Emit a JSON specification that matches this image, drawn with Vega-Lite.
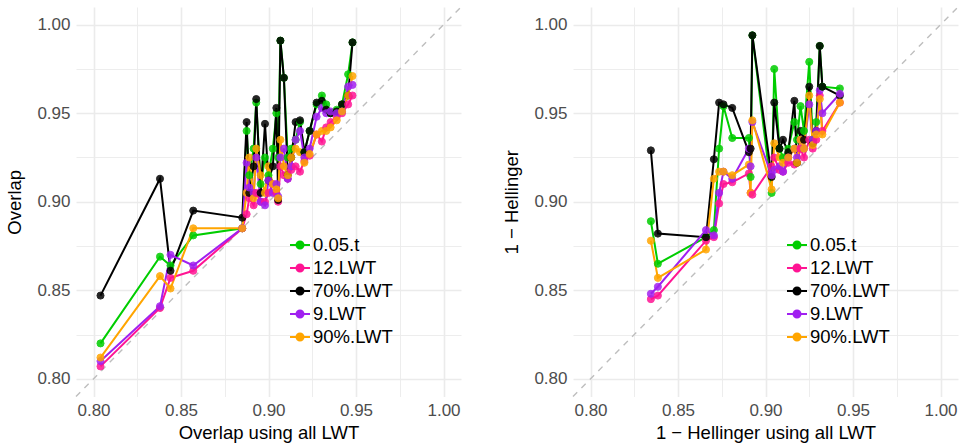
{
"$schema": "https://vega.github.io/schema/vega-lite/v6.json",
"background": "white",
"padding": {"left": 5, "top": 4, "right": 3, "bottom": 0},
"bounds": "flush",
"spacing": 112,
"config": {
  "view": {"stroke": null},
  "font": "Liberation Sans",
  "axis": {"domain": false, "ticks": false, "gridColor": "#EBEBEB", "labelFontSize": 17, "labelColor": "#4D4D4D", "titleFontSize": 18.5, "titleFontWeight": "normal", "titleColor": "#000000", "labelPadding": 6},
  "axisX": {"titlePadding": 5},
  "axisY": {"titlePadding": 12.5},
  "legend": {"title": null, "orient": "none", "legendX": 213, "legendY": 227, "padding": 0,
             "symbolType": "M-1,0L1,0M-0.35,0A0.35,0.35 0 1,0 0.35,0A0.35,0.35 0 1,0 -0.35,0", "symbolSize": 400, "symbolStrokeWidth": 2, "symbolOpacity": 1,
             "labelFontSize": 18.5, "labelColor": "#000000", "labelOffset": 2, "rowPadding": 2}
},
"datasets": {
  "diag": [{"d": 0.79}, {"d": 1.01}],
  "left": [
{"x":0.804,"s":"0.05.t","y":0.820},{"x":0.804,"s":"12.LWT","y":0.807},{"x":0.804,"s":"70%.LWT","y":0.847},{"x":0.804,"s":"9.LWT","y":0.810},{"x":0.804,"s":"90%.LWT","y":0.812},
{"x":0.838,"s":"0.05.t","y":0.869},{"x":0.838,"s":"12.LWT","y":0.840},{"x":0.838,"s":"70%.LWT","y":0.913},{"x":0.838,"s":"9.LWT","y":0.841},{"x":0.838,"s":"90%.LWT","y":0.858},
{"x":0.844,"s":"0.05.t","y":0.864},{"x":0.844,"s":"12.LWT","y":0.857},{"x":0.844,"s":"70%.LWT","y":0.861},{"x":0.844,"s":"9.LWT","y":0.870},{"x":0.844,"s":"90%.LWT","y":0.851},
{"x":0.857,"s":"0.05.t","y":0.881},{"x":0.857,"s":"12.LWT","y":0.861},{"x":0.857,"s":"70%.LWT","y":0.895},{"x":0.857,"s":"9.LWT","y":0.864},{"x":0.857,"s":"90%.LWT","y":0.885},
{"x":0.885,"s":"0.05.t","y":0.885},{"x":0.885,"s":"12.LWT","y":0.885},{"x":0.885,"s":"70%.LWT","y":0.891},{"x":0.885,"s":"9.LWT","y":0.885},{"x":0.885,"s":"90%.LWT","y":0.885},
{"x":0.8875,"s":"0.05.t","y":0.940},{"x":0.8875,"s":"12.LWT","y":0.893},{"x":0.8875,"s":"70%.LWT","y":0.945},{"x":0.8875,"s":"9.LWT","y":0.922},{"x":0.8875,"s":"90%.LWT","y":0.905},
{"x":0.889,"s":"0.05.t","y":0.915},{"x":0.889,"s":"12.LWT","y":0.902},{"x":0.889,"s":"70%.LWT","y":0.905},{"x":0.889,"s":"9.LWT","y":0.908},{"x":0.889,"s":"90%.LWT","y":0.925},
{"x":0.8915,"s":"0.05.t","y":0.930},{"x":0.8915,"s":"12.LWT","y":0.898},{"x":0.8915,"s":"70%.LWT","y":0.920},{"x":0.8915,"s":"9.LWT","y":0.905},{"x":0.8915,"s":"90%.LWT","y":0.902},
{"x":0.893,"s":"0.05.t","y":0.956},{"x":0.893,"s":"12.LWT","y":0.905},{"x":0.893,"s":"70%.LWT","y":0.958},{"x":0.893,"s":"9.LWT","y":0.925},{"x":0.893,"s":"90%.LWT","y":0.930},
{"x":0.8955,"s":"0.05.t","y":0.910},{"x":0.8955,"s":"12.LWT","y":0.900},{"x":0.8955,"s":"70%.LWT","y":0.905},{"x":0.8955,"s":"9.LWT","y":0.900},{"x":0.8955,"s":"90%.LWT","y":0.915},
{"x":0.898,"s":"0.05.t","y":0.925},{"x":0.898,"s":"12.LWT","y":0.900},{"x":0.898,"s":"70%.LWT","y":0.944},{"x":0.898,"s":"9.LWT","y":0.898},{"x":0.898,"s":"90%.LWT","y":0.905},
{"x":0.900,"s":"0.05.t","y":0.915},{"x":0.900,"s":"12.LWT","y":0.905},{"x":0.900,"s":"70%.LWT","y":0.912},{"x":0.900,"s":"9.LWT","y":0.912},{"x":0.900,"s":"90%.LWT","y":0.920},
{"x":0.9025,"s":"0.05.t","y":0.930},{"x":0.9025,"s":"12.LWT","y":0.910},{"x":0.9025,"s":"70%.LWT","y":0.920},{"x":0.9025,"s":"9.LWT","y":0.905},{"x":0.9025,"s":"90%.LWT","y":0.910},
{"x":0.9045,"s":"0.05.t","y":0.950},{"x":0.9045,"s":"12.LWT","y":0.905},{"x":0.9045,"s":"70%.LWT","y":0.953},{"x":0.9045,"s":"9.LWT","y":0.910},{"x":0.9045,"s":"90%.LWT","y":0.907},
{"x":0.9055,"s":"0.05.t","y":0.925},{"x":0.9055,"s":"12.LWT","y":0.900},{"x":0.9055,"s":"70%.LWT","y":0.901},{"x":0.9055,"s":"9.LWT","y":0.903},{"x":0.9055,"s":"90%.LWT","y":0.902},
{"x":0.9068,"s":"0.05.t","y":0.991},{"x":0.9068,"s":"12.LWT","y":0.920},{"x":0.9068,"s":"70%.LWT","y":0.991},{"x":0.9068,"s":"9.LWT","y":0.925},{"x":0.9068,"s":"90%.LWT","y":0.935},
{"x":0.9088,"s":"0.05.t","y":0.970},{"x":0.9088,"s":"12.LWT","y":0.915},{"x":0.9088,"s":"70%.LWT","y":0.970},{"x":0.9088,"s":"9.LWT","y":0.930},{"x":0.9088,"s":"90%.LWT","y":0.920},
{"x":0.911,"s":"0.05.t","y":0.925},{"x":0.911,"s":"12.LWT","y":0.913},{"x":0.911,"s":"70%.LWT","y":0.915},{"x":0.911,"s":"9.LWT","y":0.913},{"x":0.911,"s":"90%.LWT","y":0.915},
{"x":0.913,"s":"0.05.t","y":0.930},{"x":0.913,"s":"12.LWT","y":0.918},{"x":0.913,"s":"70%.LWT","y":0.925},{"x":0.913,"s":"9.LWT","y":0.920},{"x":0.913,"s":"90%.LWT","y":0.925},
{"x":0.9155,"s":"0.05.t","y":0.935},{"x":0.9155,"s":"12.LWT","y":0.920},{"x":0.9155,"s":"70%.LWT","y":0.945},{"x":0.9155,"s":"9.LWT","y":0.935},{"x":0.9155,"s":"90%.LWT","y":0.930},
{"x":0.918,"s":"0.05.t","y":0.945},{"x":0.918,"s":"12.LWT","y":0.917},{"x":0.918,"s":"70%.LWT","y":0.946},{"x":0.918,"s":"9.LWT","y":0.940},{"x":0.918,"s":"90%.LWT","y":0.928},
{"x":0.9205,"s":"0.05.t","y":0.928},{"x":0.9205,"s":"12.LWT","y":0.923},{"x":0.9205,"s":"70%.LWT","y":0.928},{"x":0.9205,"s":"9.LWT","y":0.925},{"x":0.9205,"s":"90%.LWT","y":0.922},
{"x":0.9235,"s":"0.05.t","y":0.940},{"x":0.9235,"s":"12.LWT","y":0.926},{"x":0.9235,"s":"70%.LWT","y":0.940},{"x":0.9235,"s":"9.LWT","y":0.930},{"x":0.9235,"s":"90%.LWT","y":0.927},
{"x":0.9275,"s":"0.05.t","y":0.955},{"x":0.9275,"s":"12.LWT","y":0.938},{"x":0.9275,"s":"70%.LWT","y":0.956},{"x":0.9275,"s":"9.LWT","y":0.948},{"x":0.9275,"s":"90%.LWT","y":0.938},
{"x":0.9305,"s":"0.05.t","y":0.960},{"x":0.9305,"s":"12.LWT","y":0.934},{"x":0.9305,"s":"70%.LWT","y":0.957},{"x":0.9305,"s":"9.LWT","y":0.953},{"x":0.9305,"s":"90%.LWT","y":0.940},
{"x":0.933,"s":"0.05.t","y":0.955},{"x":0.933,"s":"12.LWT","y":0.942},{"x":0.933,"s":"70%.LWT","y":0.952},{"x":0.933,"s":"9.LWT","y":0.950},{"x":0.933,"s":"90%.LWT","y":0.940},
{"x":0.9355,"s":"0.05.t","y":0.950},{"x":0.9355,"s":"12.LWT","y":0.945},{"x":0.9355,"s":"70%.LWT","y":0.950},{"x":0.9355,"s":"9.LWT","y":0.951},{"x":0.9355,"s":"90%.LWT","y":0.942},
{"x":0.939,"s":"0.05.t","y":0.952},{"x":0.939,"s":"12.LWT","y":0.948},{"x":0.939,"s":"70%.LWT","y":0.951},{"x":0.939,"s":"9.LWT","y":0.950},{"x":0.939,"s":"90%.LWT","y":0.946},
{"x":0.942,"s":"0.05.t","y":0.955},{"x":0.942,"s":"12.LWT","y":0.950},{"x":0.942,"s":"70%.LWT","y":0.955},{"x":0.942,"s":"9.LWT","y":0.951},{"x":0.942,"s":"90%.LWT","y":0.951},
{"x":0.9455,"s":"0.05.t","y":0.972},{"x":0.9455,"s":"12.LWT","y":0.955},{"x":0.9455,"s":"70%.LWT","y":0.960},{"x":0.9455,"s":"9.LWT","y":0.965},{"x":0.9455,"s":"90%.LWT","y":0.960},
{"x":0.948,"s":"0.05.t","y":0.990},{"x":0.948,"s":"12.LWT","y":0.960},{"x":0.948,"s":"70%.LWT","y":0.990},{"x":0.948,"s":"9.LWT","y":0.966},{"x":0.948,"s":"90%.LWT","y":0.971}
  ],
  "right": [
{"x":0.8345,"s":"0.05.t","y":0.889},{"x":0.8345,"s":"12.LWT","y":0.845},{"x":0.8345,"s":"70%.LWT","y":0.929},{"x":0.8345,"s":"9.LWT","y":0.848},{"x":0.8345,"s":"90%.LWT","y":0.878},
{"x":0.8385,"s":"0.05.t","y":0.865},{"x":0.8385,"s":"12.LWT","y":0.847},{"x":0.8385,"s":"70%.LWT","y":0.882},{"x":0.8385,"s":"9.LWT","y":0.852},{"x":0.8385,"s":"90%.LWT","y":0.857},
{"x":0.866,"s":"0.05.t","y":0.880},{"x":0.866,"s":"12.LWT","y":0.878},{"x":0.866,"s":"70%.LWT","y":0.880},{"x":0.866,"s":"9.LWT","y":0.884},{"x":0.866,"s":"90%.LWT","y":0.873},
{"x":0.8705,"s":"0.05.t","y":0.884},{"x":0.8705,"s":"12.LWT","y":0.880},{"x":0.8705,"s":"70%.LWT","y":0.924},{"x":0.8705,"s":"9.LWT","y":0.881},{"x":0.8705,"s":"90%.LWT","y":0.913},
{"x":0.8735,"s":"0.05.t","y":0.930},{"x":0.8735,"s":"12.LWT","y":0.899},{"x":0.8735,"s":"70%.LWT","y":0.956},{"x":0.8735,"s":"9.LWT","y":0.905},{"x":0.8735,"s":"90%.LWT","y":0.917},
{"x":0.876,"s":"0.05.t","y":0.954},{"x":0.876,"s":"12.LWT","y":0.910},{"x":0.876,"s":"70%.LWT","y":0.955},{"x":0.876,"s":"9.LWT","y":0.917},{"x":0.876,"s":"90%.LWT","y":0.917},
{"x":0.881,"s":"0.05.t","y":0.936},{"x":0.881,"s":"12.LWT","y":0.911},{"x":0.881,"s":"70%.LWT","y":0.953},{"x":0.881,"s":"9.LWT","y":0.913},{"x":0.881,"s":"90%.LWT","y":0.915},
{"x":0.8905,"s":"0.05.t","y":0.936},{"x":0.8905,"s":"12.LWT","y":0.916},{"x":0.8905,"s":"70%.LWT","y":0.928},{"x":0.8905,"s":"9.LWT","y":0.930},{"x":0.8905,"s":"90%.LWT","y":0.921},
{"x":0.8915,"s":"0.05.t","y":0.914},{"x":0.8915,"s":"12.LWT","y":0.905},{"x":0.8915,"s":"70%.LWT","y":0.930},{"x":0.8915,"s":"9.LWT","y":0.920},{"x":0.8915,"s":"90%.LWT","y":0.905},
{"x":0.8925,"s":"0.05.t","y":0.994},{"x":0.8925,"s":"12.LWT","y":0.904},{"x":0.8925,"s":"70%.LWT","y":0.994},{"x":0.8925,"s":"9.LWT","y":0.945},{"x":0.8925,"s":"90%.LWT","y":0.946},
{"x":0.9035,"s":"0.05.t","y":0.905},{"x":0.9035,"s":"12.LWT","y":0.920},{"x":0.9035,"s":"70%.LWT","y":0.914},{"x":0.9035,"s":"9.LWT","y":0.915},{"x":0.9035,"s":"90%.LWT","y":0.907},
{"x":0.905,"s":"0.05.t","y":0.975},{"x":0.905,"s":"12.LWT","y":0.925},{"x":0.905,"s":"70%.LWT","y":0.956},{"x":0.905,"s":"9.LWT","y":0.918},{"x":0.905,"s":"90%.LWT","y":0.933},
{"x":0.908,"s":"0.05.t","y":0.930},{"x":0.908,"s":"12.LWT","y":0.918},{"x":0.908,"s":"70%.LWT","y":0.930},{"x":0.908,"s":"9.LWT","y":0.920},{"x":0.908,"s":"90%.LWT","y":0.925},
{"x":0.910,"s":"0.05.t","y":0.925},{"x":0.910,"s":"12.LWT","y":0.917},{"x":0.910,"s":"70%.LWT","y":0.935},{"x":0.910,"s":"9.LWT","y":0.917},{"x":0.910,"s":"90%.LWT","y":0.922},
{"x":0.913,"s":"0.05.t","y":0.930},{"x":0.913,"s":"12.LWT","y":0.922},{"x":0.913,"s":"70%.LWT","y":0.928},{"x":0.913,"s":"9.LWT","y":0.925},{"x":0.913,"s":"90%.LWT","y":0.925},
{"x":0.9165,"s":"0.05.t","y":0.945},{"x":0.9165,"s":"12.LWT","y":0.921},{"x":0.9165,"s":"70%.LWT","y":0.957},{"x":0.9165,"s":"9.LWT","y":0.930},{"x":0.9165,"s":"90%.LWT","y":0.930},
{"x":0.918,"s":"0.05.t","y":0.935},{"x":0.918,"s":"12.LWT","y":0.922},{"x":0.918,"s":"70%.LWT","y":0.922},{"x":0.918,"s":"9.LWT","y":0.925},{"x":0.918,"s":"90%.LWT","y":0.922},
{"x":0.920,"s":"0.05.t","y":0.954},{"x":0.920,"s":"12.LWT","y":0.930},{"x":0.920,"s":"70%.LWT","y":0.940},{"x":0.920,"s":"9.LWT","y":0.935},{"x":0.920,"s":"90%.LWT","y":0.935},
{"x":0.922,"s":"0.05.t","y":0.940},{"x":0.922,"s":"12.LWT","y":0.925},{"x":0.922,"s":"70%.LWT","y":0.935},{"x":0.922,"s":"9.LWT","y":0.930},{"x":0.922,"s":"90%.LWT","y":0.930},
{"x":0.925,"s":"0.05.t","y":0.979},{"x":0.925,"s":"12.LWT","y":0.935},{"x":0.925,"s":"70%.LWT","y":0.965},{"x":0.925,"s":"9.LWT","y":0.955},{"x":0.925,"s":"90%.LWT","y":0.960},
{"x":0.927,"s":"0.05.t","y":0.935},{"x":0.927,"s":"12.LWT","y":0.930},{"x":0.927,"s":"70%.LWT","y":0.933},{"x":0.927,"s":"9.LWT","y":0.935},{"x":0.927,"s":"90%.LWT","y":0.932},
{"x":0.929,"s":"0.05.t","y":0.945},{"x":0.929,"s":"12.LWT","y":0.935},{"x":0.929,"s":"70%.LWT","y":0.940},{"x":0.929,"s":"9.LWT","y":0.940},{"x":0.929,"s":"90%.LWT","y":0.938},
{"x":0.931,"s":"0.05.t","y":0.988},{"x":0.931,"s":"12.LWT","y":0.960},{"x":0.931,"s":"70%.LWT","y":0.988},{"x":0.931,"s":"9.LWT","y":0.963},{"x":0.931,"s":"90%.LWT","y":0.958},
{"x":0.9325,"s":"0.05.t","y":0.965},{"x":0.9325,"s":"12.LWT","y":0.940},{"x":0.9325,"s":"70%.LWT","y":0.965},{"x":0.9325,"s":"9.LWT","y":0.950},{"x":0.9325,"s":"90%.LWT","y":0.938},
{"x":0.9425,"s":"0.05.t","y":0.964},{"x":0.9425,"s":"12.LWT","y":0.956},{"x":0.9425,"s":"70%.LWT","y":0.960},{"x":0.9425,"s":"9.LWT","y":0.961},{"x":0.9425,"s":"90%.LWT","y":0.956}
  ]
},
"resolve": {"scale": {"fill": "independent", "stroke": "independent"}, "legend": {"fill": "independent", "stroke": "independent"}},
"hconcat": [
  {
    "width": 385, "height": 389.5,
    "layer": [
      {"data": {"name": "diag"}, "mark": {"type": "line", "color": "#BEBEBE", "strokeWidth": 1.4, "strokeDash": [6, 6]},
       "encoding": {"x": {"field": "d", "type": "quantitative"}, "y": {"field": "d", "type": "quantitative"}}},
      {"data": {"name": "left"}, "mark": {"type": "line", "strokeWidth": 2},
       "encoding": {
         "x": {"field": "x", "type": "quantitative", "scale": {"domain": [0.79, 1.01], "nice": false, "zero": false},
               "axis": {"title": "Overlap using all LWT", "values": [0.8, 0.825, 0.85, 0.875, 0.9, 0.925, 0.95, 0.975, 1.0],
                        "labelExpr": "round(datum.value*1000) % 50 == 0 ? format(datum.value, '.2f') : ''",
                        "gridWidth": {"condition": {"test": "round(datum.value*1000) % 50 == 0", "value": 1.6}, "value": 0.9}}},
         "y": {"field": "y", "type": "quantitative", "scale": {"domain": [0.79, 1.01], "nice": false, "zero": false},
               "axis": {"title": "Overlap", "values": [0.8, 0.825, 0.85, 0.875, 0.9, 0.925, 0.95, 0.975, 1.0],
                        "labelExpr": "round(datum.value*1000) % 50 == 0 ? format(datum.value, '.2f') : ''",
                        "gridWidth": {"condition": {"test": "round(datum.value*1000) % 50 == 0", "value": 1.6}, "value": 0.9}}},
         "stroke": {"field": "s", "type": "nominal",
                    "scale": {"domain": ["0.05.t", "12.LWT", "70%.LWT", "9.LWT", "90%.LWT"], "range": ["#00CD00", "#FF1493", "#000000", "#A020F0", "#FFA500"]}}
       }},
      {"data": {"name": "left"}, "mark": {"type": "point", "filled": true, "size": 50, "opacity": 0.85, "strokeWidth": 1},
       "encoding": {
         "x": {"field": "x", "type": "quantitative"},
         "y": {"field": "y", "type": "quantitative"},
         "fill": {"field": "s", "type": "nominal",
                  "scale": {"domain": ["0.05.t", "12.LWT", "70%.LWT", "9.LWT", "90%.LWT"], "range": ["#00CD00", "#FF1493", "#000000", "#A020F0", "#FFA500"]}},
         "stroke": {"field": "s", "type": "nominal"}
       }}
    ]
  },
  {
    "width": 385, "height": 389.5,
    "layer": [
      {"data": {"name": "diag"}, "mark": {"type": "line", "color": "#BEBEBE", "strokeWidth": 1.4, "strokeDash": [6, 6]},
       "encoding": {"x": {"field": "d", "type": "quantitative"}, "y": {"field": "d", "type": "quantitative"}}},
      {"data": {"name": "right"}, "mark": {"type": "line", "strokeWidth": 2},
       "encoding": {
         "x": {"field": "x", "type": "quantitative", "scale": {"domain": [0.79, 1.01], "nice": false, "zero": false},
               "axis": {"title": "1 − Hellinger using all LWT", "values": [0.8, 0.825, 0.85, 0.875, 0.9, 0.925, 0.95, 0.975, 1.0],
                        "labelExpr": "round(datum.value*1000) % 50 == 0 ? format(datum.value, '.2f') : ''",
                        "gridWidth": {"condition": {"test": "round(datum.value*1000) % 50 == 0", "value": 1.6}, "value": 0.9}}},
         "y": {"field": "y", "type": "quantitative", "scale": {"domain": [0.79, 1.01], "nice": false, "zero": false},
               "axis": {"title": "1 − Hellinger", "values": [0.8, 0.825, 0.85, 0.875, 0.9, 0.925, 0.95, 0.975, 1.0],
                        "labelExpr": "round(datum.value*1000) % 50 == 0 ? format(datum.value, '.2f') : ''",
                        "gridWidth": {"condition": {"test": "round(datum.value*1000) % 50 == 0", "value": 1.6}, "value": 0.9}}},
         "stroke": {"field": "s", "type": "nominal",
                    "scale": {"domain": ["0.05.t", "12.LWT", "70%.LWT", "9.LWT", "90%.LWT"], "range": ["#00CD00", "#FF1493", "#000000", "#A020F0", "#FFA500"]}}
       }},
      {"data": {"name": "right"}, "mark": {"type": "point", "filled": true, "size": 50, "opacity": 0.85, "strokeWidth": 1},
       "encoding": {
         "x": {"field": "x", "type": "quantitative"},
         "y": {"field": "y", "type": "quantitative"},
         "fill": {"field": "s", "type": "nominal",
                  "scale": {"domain": ["0.05.t", "12.LWT", "70%.LWT", "9.LWT", "90%.LWT"], "range": ["#00CD00", "#FF1493", "#000000", "#A020F0", "#FFA500"]}},
         "stroke": {"field": "s", "type": "nominal"}
       }}
    ]
  }
]
}
